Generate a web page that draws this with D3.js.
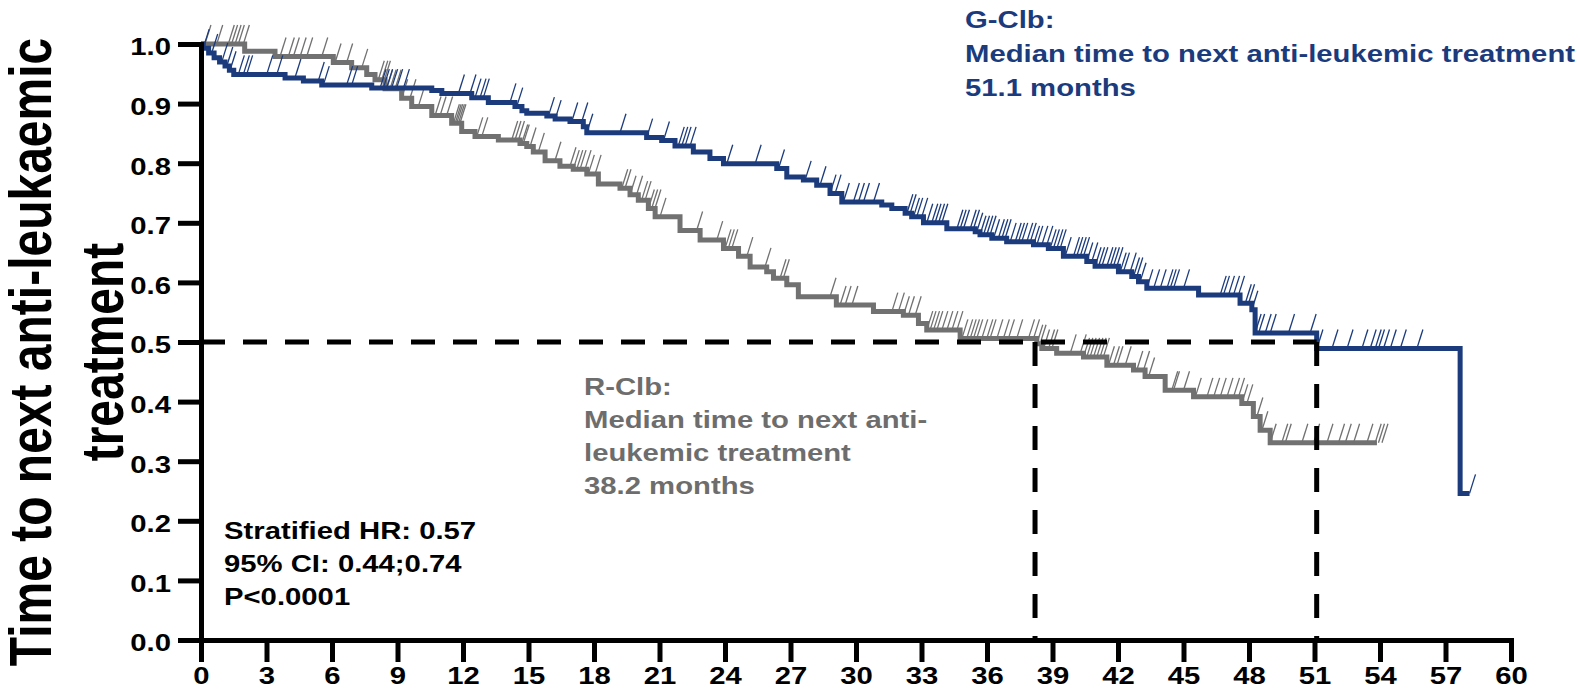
<!DOCTYPE html>
<html>
<head>
<meta charset="utf-8">
<script src="https://cdn.jsdelivr.net/npm/d3@7"></script>
<style>
  html, body { margin: 0; padding: 0; background: #fff; }
  svg { display: block; }
  text { font-family: "Liberation Sans", Arial, sans-serif; font-weight: bold; }
</style>
</head>
<body>
<div id="chart"></div>
<script>
// ---------------------
//      DATA
// ---------------------
const xTicks = [0, 3, 6, 9, 12, 15, 18, 21, 24, 27, 30, 33, 36, 39, 42, 45, 48, 51, 54, 57, 60];
const yTicks = [0, 0.1, 0.2, 0.3, 0.4, 0.5, 0.6, 0.7, 0.8, 0.9, 1.0];

// G-Clb step times (months) and survival after each step
const gcTimes = [0, 0.1, 0.35, 0.6, 0.85, 1.1, 1.3, 1.5, 3.85, 4.69, 5.53, 7.82, 10.57, 11.03, 12.4,
  13.16, 14.38, 14.7, 14.92, 15.84, 16.22, 16.9, 17.51, 17.67, 20.41, 21.1, 21.71, 22.55, 23.31,
  23.93, 26.37, 26.83, 27.59, 28.2, 28.81, 29.35, 31.18, 31.64, 32.25, 32.55, 33.09, 34.16, 35.46,
  35.68, 36.22, 36.9, 38.13, 38.81, 39.5, 40.57, 40.95, 42.02, 42.63, 42.94, 43.32, 45.69, 47.59,
  48.13, 48.28, 51.1, 57.67];
const gcSurv = [1.0, 0.993, 0.985, 0.977, 0.970, 0.963, 0.956, 0.949, 0.943, 0.938, 0.931, 0.926, 0.922, 0.917, 0.910,
  0.902, 0.895, 0.888, 0.884, 0.879, 0.874, 0.870, 0.861, 0.851, 0.843, 0.838, 0.829, 0.819, 0.808,
  0.799, 0.791, 0.777, 0.772, 0.763, 0.749, 0.735, 0.730, 0.724, 0.716, 0.710, 0.700, 0.690, 0.685,
  0.680, 0.674, 0.668, 0.663, 0.657, 0.644, 0.635, 0.627, 0.618, 0.610, 0.601, 0.590, 0.579, 0.565,
  0.554, 0.515, 0.489, 0.246];
const gcEnd = 58.1;
const gcCensor = [0.1, 0.49, 0.95, 1.18, 1.33, 1.71, 1.94, 2.09, 3.01, 3.47, 4.3, 5.37, 5.6, 6.67, 6.9,
  8.2, 8.35, 8.5, 8.73, 8.96, 9.27, 11.79, 12.32, 12.55, 12.78, 12.93, 14.15, 14.46,
  15.91, 16.22, 16.98, 17.44, 17.67, 19.19, 20.41, 21.18, 21.86, 22.02, 22.17, 22.4, 24.08, 25.38,
  26.45, 27.67, 28.35, 28.81, 29.04, 29.42, 29.88, 30.11, 30.34, 30.8, 32.33, 32.48, 32.63, 32.78,
  33.01, 33.24, 33.47, 33.62, 33.78, 33.93, 34.62, 34.77, 34.92, 35.23, 35.38, 35.53, 35.68, 35.84,
  35.99, 36.14, 36.3, 36.52, 36.68, 36.83, 37.06, 37.29, 37.44, 37.59, 37.82, 37.98, 38.13, 38.28,
  38.51, 38.74, 38.89, 39.04, 39.2, 39.35, 39.58, 39.96, 40.11, 40.27, 40.42, 40.57, 40.8, 40.95,
  41.11, 41.26, 41.49, 41.64, 41.79, 41.95, 42.1, 42.25, 42.56, 42.71, 42.86, 43.01, 43.32, 43.63,
  43.93, 44.24, 44.39, 44.54, 45.0, 46.68, 46.83, 47.06, 47.29, 47.52, 47.83, 47.98, 48.13, 48.28,
  48.44, 48.74, 48.97, 49.81, 50.8, 51.11, 51.8, 52.49, 53.17, 53.55, 53.78, 53.93, 54.16, 54.47,
  54.93, 55.69, 58.1];

// R-Clb
const rcTimes = [0, 2.0, 3.39, 6.06, 6.9, 7.59, 7.97, 8.43, 9.19, 9.65, 10.57, 11.48, 11.94, 12.55,
  13.62, 14.61, 14.92, 15.22, 15.76, 16.44, 17.05, 17.67, 18.2, 19.19, 19.65, 20.03, 20.49, 20.8,
  21.94, 22.86, 23.93, 24.62, 25.15, 25.91, 26.22, 26.83, 27.36, 29.1, 30.8, 32.17, 32.86, 33.24,
  34.77, 38.28, 38.51, 39.19, 40.42, 41.49, 42.71, 43.24, 44.16, 45.46, 47.67, 48.2, 48.51, 48.97];
const rcSurv = [1.0, 0.988, 0.979, 0.969, 0.960, 0.949, 0.940, 0.925, 0.909, 0.895, 0.880, 0.867, 0.853, 0.845,
  0.839, 0.833, 0.828, 0.819, 0.804, 0.795, 0.790, 0.782, 0.765, 0.758, 0.747, 0.738, 0.724, 0.710,
  0.687, 0.671, 0.657, 0.644, 0.626, 0.618, 0.607, 0.596, 0.576, 0.562, 0.551, 0.545, 0.531, 0.520,
  0.506, 0.497, 0.489, 0.481, 0.475, 0.461, 0.453, 0.442, 0.419, 0.408, 0.397, 0.375, 0.352, 0.331];
const rcEnd = 53.86;
const rcCensor = [0.18, 0.72, 1.25, 1.4, 1.56, 1.71, 1.94, 3.62, 4.0, 4.23, 4.54, 4.84, 5.53, 6.14, 6.67,
  7.36, 8.12, 8.28, 8.4, 8.5, 8.66, 8.89, 9.19, 9.57, 9.95, 10.72, 10.95, 11.25, 11.56, 11.64, 11.71,
  11.79, 11.86, 12.63, 12.86, 14.23, 14.38, 14.54, 14.69, 14.76, 15.07, 15.45, 16.21, 16.9, 17.05,
  17.21, 17.36, 17.59, 17.74, 18.05, 19.27, 19.42, 19.65, 19.95, 20.18, 20.34, 20.49, 20.64, 20.79,
  21.02, 22.7, 23.62, 24.0, 24.15, 24.31, 25.0, 25.83, 26.52, 26.67, 28.81, 29.27, 29.5, 29.81, 31.64,
  31.94, 32.17, 32.4, 32.71, 33.24, 33.39, 33.55, 33.7, 33.93, 34.16, 34.39, 34.62, 34.85, 35.07,
  35.23, 35.38, 35.53, 35.76, 35.99, 36.14, 36.45, 36.75, 36.98, 37.36, 37.9, 38.13, 38.28, 38.43,
  38.59, 38.82, 38.97, 39.81, 40.27, 40.42, 40.57, 40.72, 40.88, 41.03, 41.18, 41.33, 41.56, 41.79,
  41.95, 42.33, 42.86, 43.17, 43.4, 44.46, 44.54, 45.0, 45.54, 46.07, 46.38, 46.68, 46.99, 47.29,
  47.52, 47.67, 47.9, 48.36, 48.59, 48.97, 49.5, 49.66, 50.42, 50.96, 51.57, 52.1, 52.41, 52.79,
  53.4, 53.78, 53.93, 54.09];

const medians = [38.2, 51.1];
const gcLabel = ["G-Clb:", "Median time to next anti-leukemic treatment", "51.1 months"];
const rcLabel = ["R-Clb:", "Median time to next anti-", "leukemic treatment", "38.2 months"];
const statsLabel = ["Stratified HR: 0.57", "95% CI: 0.44;0.74", "P<0.0001"];
const yTitle = ["Time to next anti-leukaemic", "treatment"];

// ---------------------
//      CHART
// ---------------------
const width = 1580;
const height = 699;
const blue = "#1b3b7d";
const grey = "#717171";
const stretch = 1.22;   // text in the figure is widened horizontally

const x = d3.scaleLinear().domain([0, 60]).range([201, 1511]);
const y = d3.scaleLinear().domain([0, 1]).range([640, 44]);

const svg = d3.select("#chart").append("svg")
  .attr("width", width)
  .attr("height", height);

function survAt(times, surv, t) {
  const i = d3.bisectRight(times, t) - 1;
  return surv[Math.max(0, i)];
}

function drawArm(times, surv, end, censor, color) {
  const pts = times.map((t, i) => [t, surv[i]]);
  pts.push([end, surv[surv.length - 1]]);
  const line = d3.line()
    .x(d => x(d[0]))
    .y(d => y(d[1]))
    .curve(d3.curveStepAfter);

  svg.append("path")
    .datum(pts)
    .attr("d", line)
    .attr("fill", "none")
    .attr("stroke", color)
    .attr("stroke-width", 5);

  svg.append("g")
    .selectAll("line")
    .data(censor)
    .join("line")
    .attr("x1", d => x(d))
    .attr("y1", d => y(survAt(times, surv, d)))
    .attr("x2", d => x(d) + 6)
    .attr("y2", d => y(survAt(times, surv, d)) - 19)
    .attr("stroke", color)
    .attr("stroke-width", 1.3);
}

drawArm(rcTimes, rcSurv, rcEnd, rcCensor, grey);
drawArm(gcTimes, gcSurv, gcEnd, gcCensor, blue);

// median dashed lines
const dash = svg.append("g")
  .attr("stroke", "#000")
  .attr("stroke-width", 5)
  .attr("stroke-dasharray", "24 18")
  .attr("fill", "none");
dash.append("line")
  .attr("x1", x(0)).attr("x2", x(d3.max(medians)))
  .attr("y1", y(0.5)).attr("y2", y(0.5));
dash.selectAll(".vline")
  .data(medians)
  .join("line")
  .attr("class", "vline")
  .attr("x1", d => x(d)).attr("x2", d => x(d))
  .attr("y1", y(0.5)).attr("y2", y(0));

// axes
const xAxis = d3.axisBottom(x).tickValues(xTicks).tickSize(22).tickSizeOuter(0).tickFormat(d3.format("d"));
const yAxis = d3.axisLeft(y).tickValues(yTicks).tickSize(23).tickSizeOuter(0).tickFormat(d3.format(".1f"));

const gx = svg.append("g").attr("transform", `translate(0,${y(0)})`).call(xAxis);
const gy = svg.append("g").attr("transform", `translate(${x(0)},0)`).call(yAxis);

[gx, gy].forEach(g => {
  g.select(".domain").attr("stroke", "#000").attr("stroke-width", 5).attr("stroke-linecap", "square");
  g.selectAll(".tick line").attr("stroke", "#000").attr("stroke-width", 5);
  g.selectAll(".tick text").attr("fill", "#000").attr("font-size", 24);
});

gx.selectAll(".tick text")
  .attr("y", 0).attr("dy", 0)
  .attr("transform", `translate(0,44) scale(${stretch},1)`);
gy.selectAll(".tick text")
  .attr("x", 0).attr("dy", "0.45em")
  .attr("transform", `translate(-30,0) scale(${stretch},1)`);

// text blocks
function textBlock(lines, x0, y0, step, color, size) {
  svg.append("g")
    .selectAll("text")
    .data(lines)
    .join("text")
    .attr("transform", (d, i) => `translate(${x0},${y0 + i * step}) scale(${stretch},1)`)
    .attr("fill", color)
    .attr("font-size", size)
    .text(d => d);
}

textBlock(gcLabel, 965, 28, 34, blue, 24);
textBlock(rcLabel, 584, 395, 33, "#6d6d6d", 24);
textBlock(statsLabel, 224, 539, 33, "#000", 24);

// y title
svg.append("g")
  .selectAll("text")
  .data(yTitle)
  .join("text")
  .attr("transform", (d, i) => `translate(${51 + i * 72},352) scale(${stretch},1) rotate(-90)`)
  .attr("text-anchor", "middle")
  .attr("font-size", 48)
  .attr("fill", "#000")
  .text(d => d);
</script>
</body>
</html>
